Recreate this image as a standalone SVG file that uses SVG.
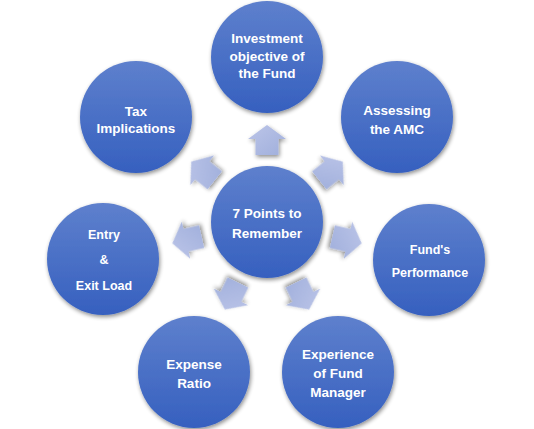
<svg xmlns="http://www.w3.org/2000/svg" width="534" height="429" viewBox="0 0 534 429">
<defs>
<linearGradient id="cg" x1="0" y1="0" x2="0" y2="1">
<stop offset="0" stop-color="#5e80cd"/>
<stop offset="1" stop-color="#3660bf"/>
</linearGradient>
<linearGradient id="ag" x1="0" y1="0" x2="1" y2="1">
<stop offset="0" stop-color="#bcc5e8"/>
<stop offset="1" stop-color="#a0afdc"/>
</linearGradient>
<filter id="sh" x="-20%" y="-20%" width="140%" height="140%">
<feGaussianBlur in="SourceAlpha" stdDeviation="2"/>
<feOffset dx="1" dy="2" result="b"/>
<feComponentTransfer><feFuncA type="linear" slope="0.45"/></feComponentTransfer>
<feMerge><feMergeNode/><feMergeNode in="SourceGraphic"/></feMerge>
</filter>
<path id="arr" d="M0,-15 L19,-1 L11.5,-1 L11.5,15 L-11.5,15 L-11.5,-1 L-19,-1 Z"/>
</defs>
<style>
.c{fill:url(#cg);filter:url(#sh)}
.a{fill:url(#ag);filter:url(#sh)}
text{font-family:"Liberation Sans",Arial,sans-serif;font-weight:bold;font-size:13.5px;fill:#ffffff;text-anchor:middle}
.s{font-size:12.5px}
</style>
<g id="connectors">
<use href="#arr" class="a" transform="translate(267,140)"/>
<use href="#arr" class="a" transform="translate(331,171) rotate(51.43)"/>
<use href="#arr" class="a" transform="translate(347,240) rotate(102.86)"/>
<use href="#arr" class="a" transform="translate(302.6,296) rotate(154.29)"/>
<use href="#arr" class="a" transform="translate(231.4,296) rotate(205.71)"/>
<use href="#arr" class="a" transform="translate(187,240) rotate(257.14)"/>
<use href="#arr" class="a" transform="translate(203,171) rotate(308.57)"/>
</g>
<g id="center">
<circle class="c" cx="267" cy="222" r="56"/>
<text x="267" y="218">7 Points to</text>
<text x="267" y="238">Remember</text>
</g>
<g id="investment">
<circle class="c" cx="267" cy="57" r="56"/>
<text x="267" y="43">Investment</text>
<text x="267" y="61">objective of</text>
<text x="267" y="78">the Fund</text>
</g>
<g id="amc">
<circle class="c" cx="397" cy="117" r="56"/>
<text x="397" y="115">Assessing</text>
<text x="397" y="134">the AMC</text>
</g>
<g id="performance">
<circle class="c" cx="429" cy="260" r="56"/>
<text class="s" x="430" y="254">Fund's</text>
<text class="s" x="430" y="277">Performance</text>
</g>
<g id="experience">
<circle class="c" cx="338" cy="372" r="56"/>
<text x="338" y="359">Experience</text>
<text x="338" y="378">of Fund</text>
<text x="338" y="397">Manager</text>
</g>
<g id="expense">
<circle class="c" cx="194" cy="372" r="56"/>
<text x="194" y="369">Expense</text>
<text x="194" y="388">Ratio</text>
</g>
<g id="entry">
<circle class="c" cx="103" cy="259" r="56"/>
<text class="s" x="104" y="239">Entry</text>
<text class="s" x="104" y="264">&amp;</text>
<text class="s" x="104" y="290">Exit Load</text>
</g>
<g id="tax">
<circle class="c" cx="136" cy="117" r="56"/>
<text x="136" y="116">Tax</text>
<text x="136" y="133">Implications</text>
</g>
</svg>
